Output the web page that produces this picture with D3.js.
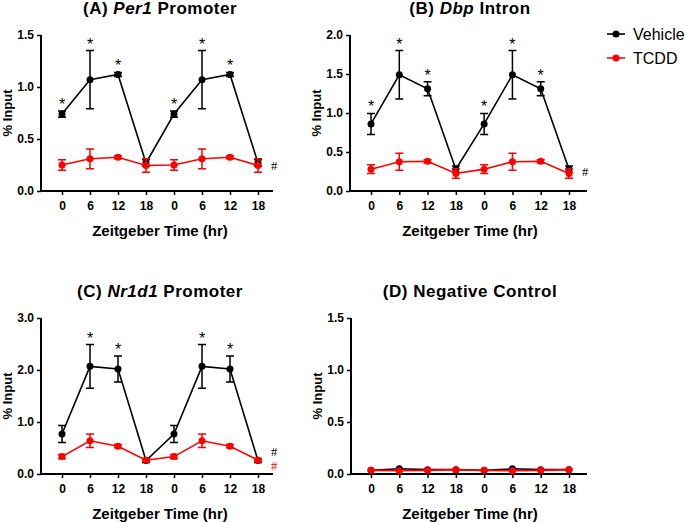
<!DOCTYPE html>
<html>
<head>
<meta charset="utf-8">
<script src="https://d3js.org/d3.v7.min.js"></script>
<style>
  body { margin: 0; background: #fff; }
  svg { font-family: "Liberation Sans", Arial, sans-serif; }
</style>
</head>
<body>
<script>
// x categories: two cycles of Zeitgeber time
var timeLabels = ["0", "6", "12", "18", "0", "6", "12", "18"];

// (A) Per1 promoter
var per1Vehicle = [0.74, 1.07, 1.12, 0.27, 0.74, 1.07, 1.12, 0.27];
var per1VehicleErr = [0.03, 0.28, 0.02, 0.03, 0.03, 0.28, 0.02, 0.03];
var per1Tcdd = [0.25, 0.31, 0.325, 0.245, 0.25, 0.31, 0.325, 0.245];
var per1TcddErr = [0.05, 0.095, 0.015, 0.065, 0.05, 0.095, 0.015, 0.065];
var per1Stars = [true, true, true, false, true, true, true, false];

// (B) Dbp intron
var dbpVehicle = [0.86, 1.49, 1.31, 0.28, 0.86, 1.49, 1.31, 0.28];
var dbpVehicleErr = [0.135, 0.31, 0.09, 0.04, 0.135, 0.31, 0.09, 0.04];
var dbpTcdd = [0.28, 0.375, 0.38, 0.225, 0.28, 0.375, 0.38, 0.225];
var dbpTcddErr = [0.055, 0.11, 0.02, 0.06, 0.055, 0.11, 0.02, 0.06];
var dbpStars = [true, true, true, false, true, true, true, false];

// (C) Nr1d1 promoter
var nr1d1Vehicle = [0.77, 2.07, 2.02, 0.26, 0.77, 2.07, 2.02, 0.26];
var nr1d1VehicleErr = [0.165, 0.42, 0.25, 0.04, 0.165, 0.42, 0.25, 0.04];
var nr1d1Tcdd = [0.335, 0.64, 0.535, 0.265, 0.335, 0.64, 0.535, 0.265];
var nr1d1TcddErr = [0.04, 0.13, 0.03, 0.03, 0.04, 0.13, 0.03, 0.03];
var nr1d1Stars = [false, true, true, false, false, true, true, false];

// (D) negative control
var negVehicle = [0.035, 0.05, 0.042, 0.042, 0.035, 0.05, 0.042, 0.042];
var negVehicleErr = [0, 0, 0, 0, 0, 0, 0, 0];
var negTcdd = [0.035, 0.032, 0.035, 0.042, 0.035, 0.032, 0.035, 0.042];
var negTcddErr = [0, 0, 0, 0, 0, 0, 0, 0];
var negStars = [false, false, false, false, false, false, false, false];

var legendNames = ["Vehicle", "TCDD"];
var colors = { Vehicle: "#000000", TCDD: "#ff0000" };

var svg = d3.select("body").append("svg")
  .attr("width", 685)
  .attr("height", 522);

// one panel per figure part
var panels = [
  { title: ["(A) ", "Per1", " Promoter"], left: 41, right: 273, top: 35, bottom: 191,
    t0: 62, t1: 258, yMax: 1.5, yTicks: [0, 0.5, 1.0, 1.5],
    veh: per1Vehicle, vehErr: per1VehicleErr, tcdd: per1Tcdd, tcddErr: per1TcddErr,
    stars: per1Stars, hash: [{ v: 0.24, c: "#000" }] },
  { title: ["(B) ", "Dbp", " Intron"], left: 350, right: 587, top: 35, bottom: 191,
    t0: 371, t1: 569, yMax: 2.0, yTicks: [0, 0.5, 1.0, 1.5, 2.0],
    veh: dbpVehicle, vehErr: dbpVehicleErr, tcdd: dbpTcdd, tcddErr: dbpTcddErr,
    stars: dbpStars, hash: [{ v: 0.24, c: "#000" }] },
  { title: ["(C) ", "Nr1d1", " Promoter"], left: 41, right: 273, top: 318, bottom: 474,
    t0: 62, t1: 258, yMax: 3.0, yTicks: [0, 1.0, 2.0, 3.0],
    veh: nr1d1Vehicle, vehErr: nr1d1VehicleErr, tcdd: nr1d1Tcdd, tcddErr: nr1d1TcddErr,
    stars: nr1d1Stars, hash: [{ v: 0.42, c: "#000" }, { v: 0.15, c: "#ff0000" }] },
  { title: ["(D) Negative Control", "", ""], left: 351, right: 587, top: 318, bottom: 474,
    t0: 371, t1: 569, yMax: 1.5, yTicks: [0, 0.5, 1.0, 1.5],
    veh: negVehicle, vehErr: negVehicleErr, tcdd: negTcdd, tcddErr: negTcddErr,
    stars: negStars, hash: [] }
];

panels.forEach(drawPanel);

function drawPanel(p) {
  var g = svg.append("g");
  var idx = d3.range(timeLabels.length);

  var x = d3.scalePoint().domain(idx).range([p.t0, p.t1]);
  var y = d3.scaleLinear().domain([0, p.yMax]).range([p.bottom, p.top]);

  // Title with italic gene name
  var t = g.append("text")
    .attr("x", (p.t0 + p.t1) / 2)
    .attr("y", p.top - 21)
    .attr("text-anchor", "middle")
    .style("font-size", "17px")
    .style("letter-spacing", "0.5px")
    .style("font-weight", "bold");
  t.append("tspan").text(p.title[0]);
  t.append("tspan").style("font-style", "italic").text(p.title[1]);
  t.append("tspan").text(p.title[2]);

  // y axis
  var yAxis = g.append("g")
    .attr("transform", "translate(" + p.left + ",0)")
    .call(d3.axisLeft(y).tickValues(p.yTicks).tickFormat(d3.format(".1f")).tickSize(4).tickPadding(3));
  yAxis.select(".domain").attr("d", "M0," + p.top + "V" + p.bottom);

  // x axis
  var xAxis = g.append("g")
    .attr("transform", "translate(0," + p.bottom + ")")
    .call(d3.axisBottom(x).tickFormat(function(i) { return timeLabels[i]; }).tickSize(4).tickPadding(6));
  xAxis.select(".domain").attr("d", "M" + p.left + ",0H" + p.right);

  g.selectAll(".domain").attr("stroke", "#000").attr("stroke-width", 2);
  g.selectAll(".tick line").attr("stroke", "#000").attr("stroke-width", 1.5);
  g.selectAll(".tick text")
    .attr("fill", "#000")
    .style("font-size", "12px")
    .style("font-weight", "bold")
    .style("font-family", "'Liberation Sans', Arial, sans-serif");

  // axis titles
  g.append("text")
    .attr("x", (p.t0 + p.t1) / 2)
    .attr("y", p.bottom + 45)
    .attr("text-anchor", "middle")
    .style("font-size", "15px")
    .style("font-weight", "bold")
    .text("Zeitgeber Time (hr)");

  g.append("text")
    .attr("transform", "translate(" + (p.left - 29) + "," + ((p.top + p.bottom) / 2) + ") rotate(-90)")
    .attr("text-anchor", "middle")
    .style("font-size", "13px")
    .style("font-weight", "bold")
    .text("% Input");

  // Vehicle first so TCDD sits on top where they meet
  var series = [
    { name: "Vehicle", vals: p.veh, err: p.vehErr },
    { name: "TCDD", vals: p.tcdd, err: p.tcddErr }
  ];

  var line = d3.line()
    .x(function(d, i) { return x(i); })
    .y(function(d) { return y(d); });

  series.forEach(function(s) {
    var col = colors[s.name];
    var sg = g.append("g");

    // error bars
    idx.forEach(function(i) {
      if (!s.err[i]) return;
      var hi = y(s.vals[i] + s.err[i]), lo = y(s.vals[i] - s.err[i]), cx = x(i);
      sg.append("path")
        .attr("d", "M" + cx + "," + hi + "V" + lo +
                   "M" + (cx - 4) + "," + hi + "H" + (cx + 4) +
                   "M" + (cx - 4) + "," + lo + "H" + (cx + 4))
        .attr("stroke", col)
        .attr("stroke-width", 1.5)
        .attr("fill", "none");
    });

    sg.append("path")
      .datum(s.vals)
      .attr("d", line)
      .attr("stroke", col)
      .attr("stroke-width", 1.6)
      .attr("fill", "none");

    sg.selectAll("circle")
      .data(s.vals)
      .enter().append("circle")
      .attr("cx", function(d, i) { return x(i); })
      .attr("cy", function(d) { return y(d); })
      .attr("r", 3.5)
      .attr("fill", col);
  });

  // significance stars above vehicle error bars
  idx.forEach(function(i) {
    if (!p.stars[i]) return;
    g.append("text")
      .attr("x", x(i))
      .attr("y", y(p.veh[i] + p.vehErr[i]) - 1)
      .attr("text-anchor", "middle")
      .attr("fill", "#000")
      .style("font-size", "16px")
      .text("*");
  });

  // hash marks
  p.hash.forEach(function(h) {
    g.append("text")
      .attr("x", p.t1 + 13)
      .attr("y", y(h.v) + 4)
      .attr("fill", h.c)
      .style("font-family", "'Liberation Serif', 'Times New Roman', serif")
      .style("font-size", "12.5px")
      .text("#");
  });
}

// legend
var legend = svg.append("g").attr("transform", "translate(607,34)");
legendNames.forEach(function(name, i) {
  var lg = legend.append("g").attr("transform", "translate(0," + (i * 24) + ")");
  lg.append("line")
    .attr("x1", 0).attr("x2", 18)
    .attr("stroke", colors[name])
    .attr("stroke-width", 1.6);
  lg.append("circle")
    .attr("cx", 9).attr("r", 3.5)
    .attr("fill", colors[name]);
  lg.append("text")
    .attr("x", 26)
    .attr("y", 6)
    .style("font-size", "16px")
    .text(name);
});
</script>
</body>
</html>
